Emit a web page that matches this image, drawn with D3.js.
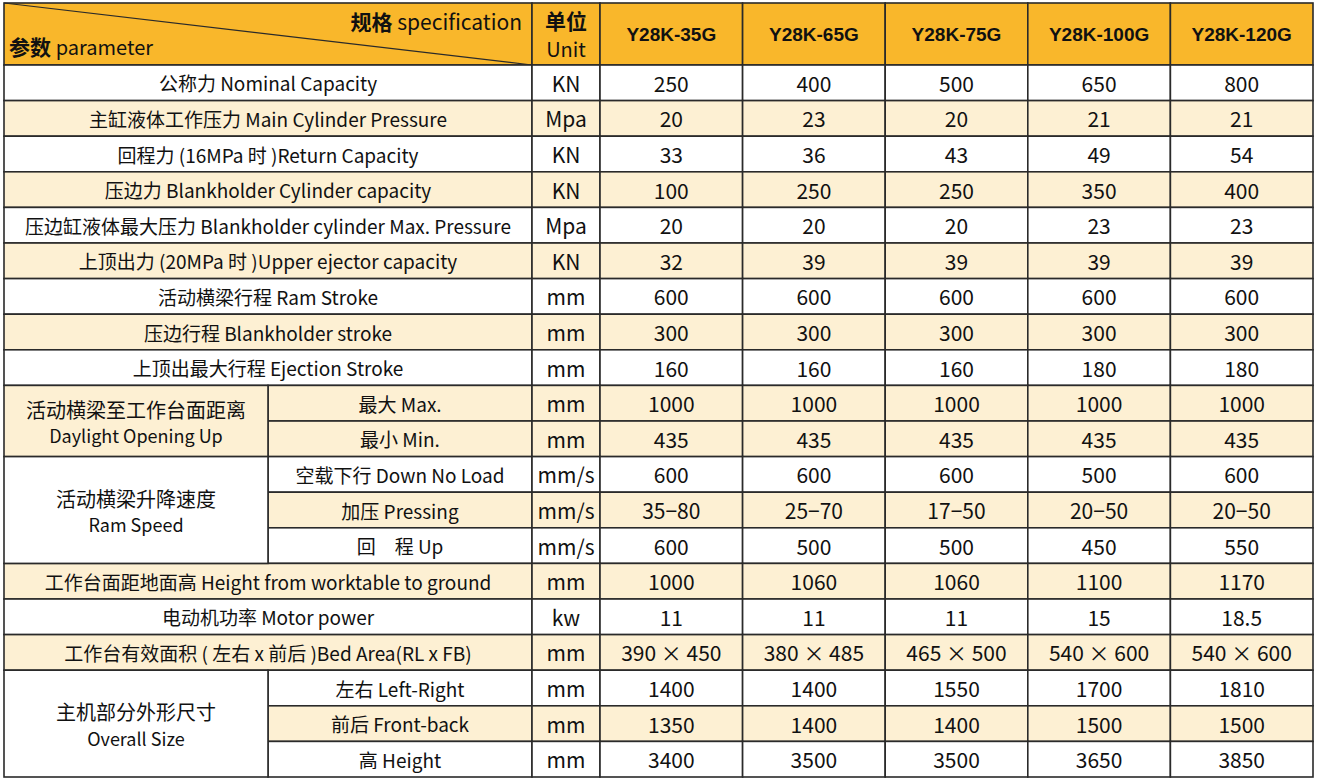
<!DOCTYPE html>
<html><head><meta charset="utf-8">
<script src="https://cdn.jsdelivr.net/npm/d3@7"></script>
<style>body{margin:0;background:#fff}svg{display:block}</style>
</head><body><svg id="canvas" width="1321" height="782"></svg>
<script>
// Table data
let models = ["Y28K-35G", "Y28K-65G", "Y28K-75G", "Y28K-100G", "Y28K-120G"];
let labels = [
  "公称力 Nominal Capacity", "主缸液体工作压力 Main Cylinder Pressure", "回程力 (16MPa 时 )Return Capacity",
  "压边力 Blankholder Cylinder capacity", "压边缸液体最大压力 Blankholder cylinder Max. Pressure",
  "上顶出力 (20MPa 时 )Upper ejector capacity", "活动横梁行程 Ram Stroke", "压边行程 Blankholder stroke",
  "上顶出最大行程 Ejection Stroke", "最大 Max.", "最小 Min.", "空载下行 Down No Load", "加压 Pressing",
  "回　程 Up", "工作台面距地面高 Height from worktable to ground", "电动机功率 Motor power",
  "工作台有效面积 ( 左右 x 前后 )Bed Area(RL x FB)", "左右 Left-Right", "前后 Front-back", "高 Height"
];
let units = ["KN", "Mpa", "KN", "KN", "Mpa", "KN", "mm", "mm", "mm", "mm", "mm", "mm/s", "mm/s", "mm/s", "mm", "kw", "mm", "mm", "mm", "mm"];
let values = [
  ["250", "400", "500", "650", "800"],
  ["20", "23", "20", "21", "21"],
  ["33", "36", "43", "49", "54"],
  ["100", "250", "250", "350", "400"],
  ["20", "20", "20", "23", "23"],
  ["32", "39", "39", "39", "39"],
  ["600", "600", "600", "600", "600"],
  ["300", "300", "300", "300", "300"],
  ["160", "160", "160", "180", "180"],
  ["1000", "1000", "1000", "1000", "1000"],
  ["435", "435", "435", "435", "435"],
  ["600", "600", "600", "500", "600"],
  ["35−80", "25−70", "17−50", "20−50", "20−50"],
  ["600", "500", "500", "450", "550"],
  ["1000", "1060", "1060", "1100", "1170"],
  ["11", "11", "11", "15", "18.5"],
  ["390 × 450", "380 × 485", "465 × 500", "540 × 600", "540 × 600"],
  ["1400", "1400", "1550", "1700", "1810"],
  ["1350", "1400", "1400", "1500", "1500"],
  ["3400", "3500", "3500", "3650", "3850"]
];
let shaded = [0,1,0,1,0,1,0,1,0,1,1,0,1,0,1,0,1,0,1,0];
let groups = [
  {start: 9, end: 10, zh: "活动横梁至工作台面距离", en: "Daylight Opening Up", shade: 1},
  {start: 11, end: 13, zh: "活动横梁升降速度", en: "Ram Speed", shade: 0},
  {start: 17, end: 19, zh: "主机部分外形尺寸", en: "Overall Size", shade: 0}
];

let yellow = "#f9b72b", cream = "#fdf0d3", line = "#2a2a2a";
let font = "'Liberation Sans Narrow', 'Noto Sans CJK SC', 'Noto Sans', sans-serif";
let boldFont = "'Liberation Sans', 'Noto Sans CJK SC', sans-serif";
let svg = d3.select("#canvas");

let x0 = 4, xSplit = 268, xUnit = 532, xModel = 600, x1 = 1313;
let yTop = 3, yHead = 65, yBot = 777;
let y = d3.scaleBand().domain(d3.range(labels.length)).range([yHead, yBot]);
let xm = d3.scaleBand().domain(models).range([xModel, x1]);

let inGroup = (i) => groups.find((g) => i >= g.start && i <= g.end);

function cell(x, yy, w, h, fill) {
  svg.append("rect").attr("x", x).attr("y", yy).attr("width", w).attr("height", h)
    .attr("fill", fill).attr("stroke", line).attr("stroke-width", 1.6);
}
function text(x, yy, str, size, weight, fam) {
  svg.append("text").attr("x", x).attr("y", yy).attr("text-anchor", "middle")
    .attr("dominant-baseline", "central").attr("font-family", fam || font)
    .attr("font-size", size).attr("font-weight", weight || 400).attr("fill", "#111").text(str);
}

// header
cell(x0, yTop, xUnit - x0, yHead - yTop, yellow);
svg.append("line").attr("x1", x0).attr("y1", yTop).attr("x2", xUnit).attr("y2", yHead)
  .attr("stroke", line).attr("stroke-width", 1.2);
let t1 = svg.append("text").attr("x", 522).attr("y", 21).attr("text-anchor", "end")
  .attr("dominant-baseline", "central").attr("font-family", font).attr("fill", "#111");
t1.append("tspan").attr("font-size", 21).attr("font-weight", 700).text("规格 ");
t1.append("tspan").attr("font-size", 21).text("specification");
let t2 = svg.append("text").attr("x", 9).attr("y", 46).attr("dominant-baseline", "central")
  .attr("font-family", font).attr("fill", "#111");
t2.append("tspan").attr("font-size", 21).attr("font-weight", 700).text("参数 ");
t2.append("tspan").attr("font-size", 20).text("parameter");
cell(xUnit, yTop, xModel - xUnit, yHead - yTop, yellow);
text((xUnit + xModel) / 2, 20, "单位", 21, 700);
text((xUnit + xModel) / 2, 48, "Unit", 20, 400);
models.forEach((m) => {
  cell(xm(m), yTop, xm.bandwidth(), yHead - yTop, yellow);
  text(xm(m) + xm.bandwidth() / 2, 34, m, 19, 700, boldFont);
});

// body rows
labels.forEach((lab, i) => {
  let fill = shaded[i] ? cream : "#fff";
  let g = inGroup(i);
  let lx = g ? xSplit : x0;
  cell(lx, y(i), xUnit - lx, y.bandwidth(), fill);
  text((lx + xUnit) / 2, y(i) + y.bandwidth() / 2, lab, 19);
  cell(xUnit, y(i), xModel - xUnit, y.bandwidth(), fill);
  text((xUnit + xModel) / 2, y(i) + y.bandwidth() / 2, units[i], 21);
  models.forEach((m, j) => {
    cell(xm(m), y(i), xm.bandwidth(), y.bandwidth(), fill);
    text(xm(m) + xm.bandwidth() / 2, y(i) + y.bandwidth() / 2, values[i][j], 21);
  });
});

// group labels
groups.forEach((g) => {
  let top = y(g.start), h = y(g.end) + y.bandwidth() - top;
  cell(x0, top, xSplit - x0, h, g.shade ? cream : "#fff");
  text((x0 + xSplit) / 2, top + h / 2 - 12, g.zh, 20);
  text((x0 + xSplit) / 2, top + h / 2 + 14, g.en, 18);
});
</script></body></html>
